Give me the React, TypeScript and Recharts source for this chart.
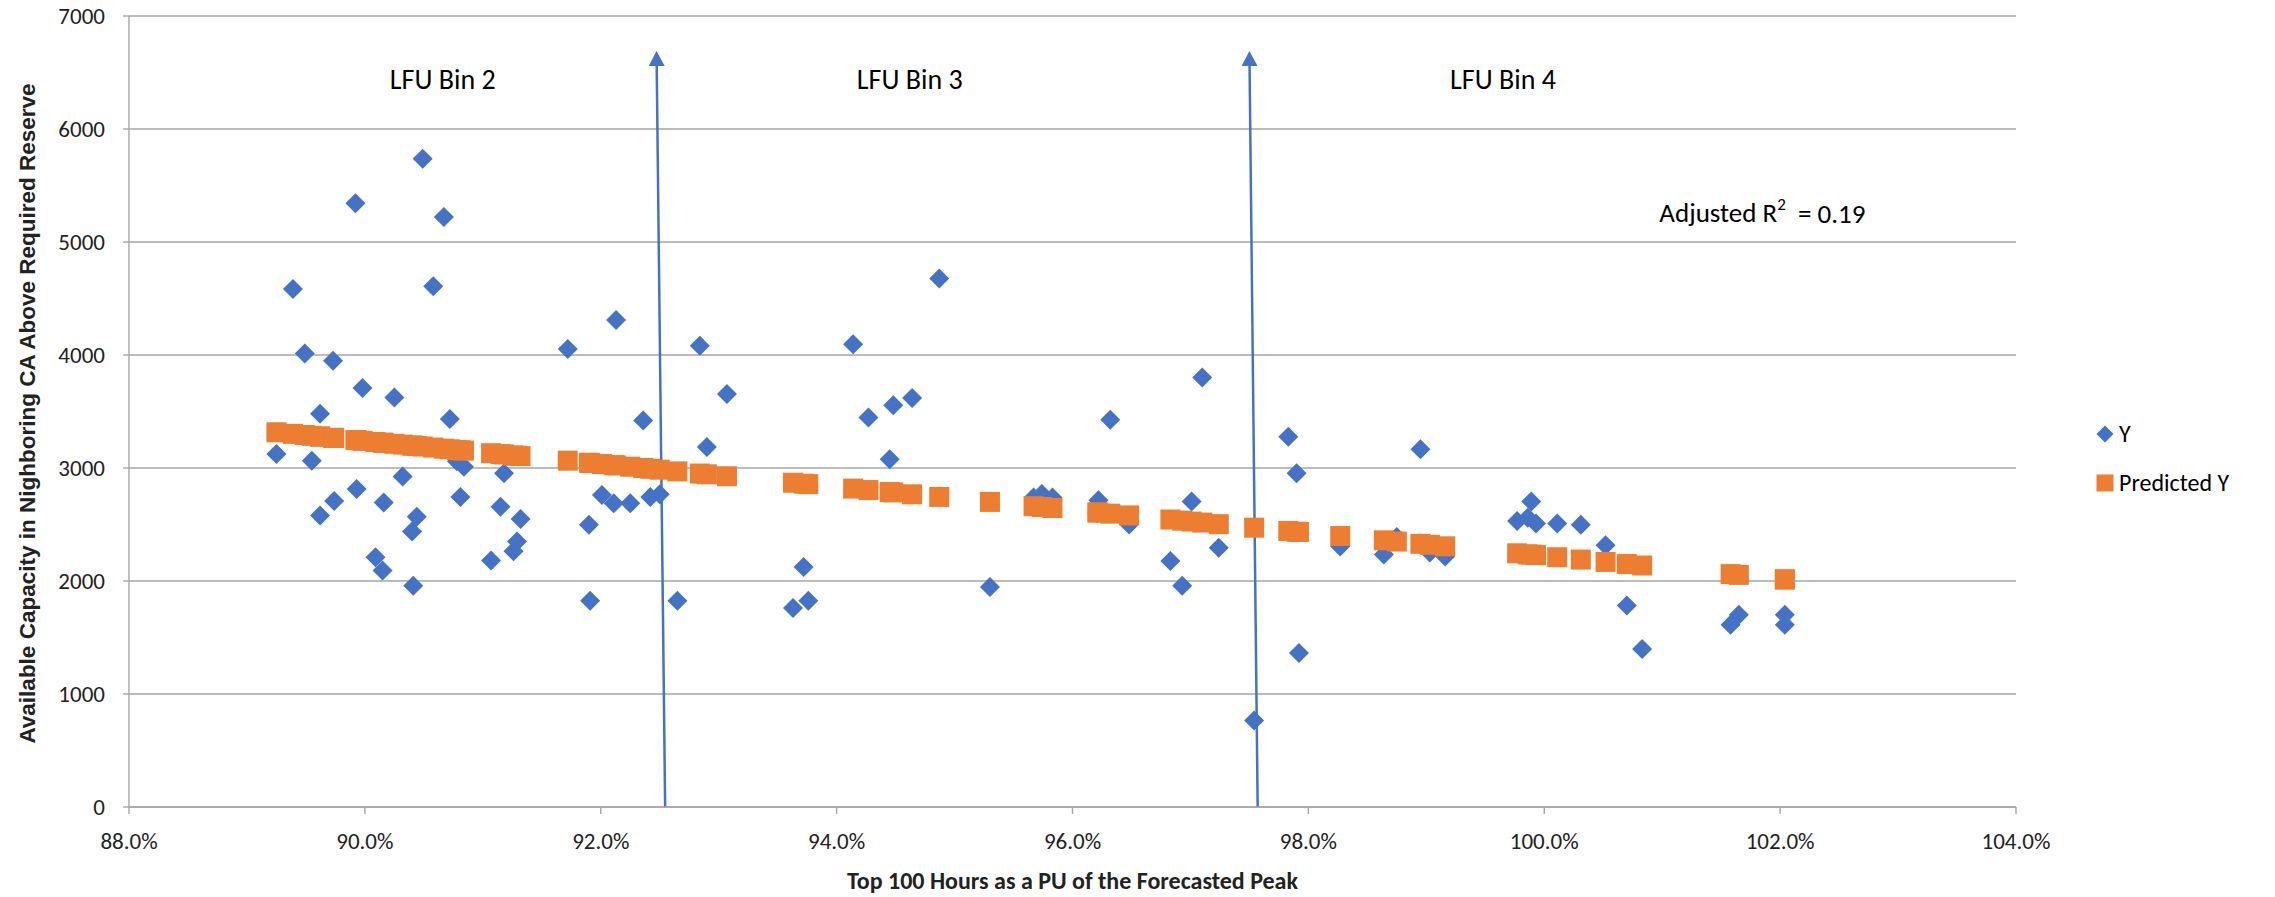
import {
  CartesianGrid,
  Legend,
  ReferenceDot,
  ReferenceLine,
  Scatter,
  ScatterChart,
  XAxis,
  YAxis,
} from "recharts";

const BLUE = "#4472C4";
const ORANGE = "#ED7D31";
const GRID = "#a6a6a6";
const FONT = "Carlito, Calibri, 'Liberation Sans Narrow', 'Arial Narrow', Lato, sans-serif";

// top 100 hours as % of forecasted peak
const X_VALUES = [
  89.25, 89.39, 89.49, 89.55, 89.62, 89.62, 89.73, 89.74, 89.92, 89.93,
  89.98, 90.09, 90.15, 90.16, 90.25, 90.32, 90.4, 90.41, 90.44, 90.49,
  90.58, 90.67, 90.72, 90.78, 90.81, 90.84, 91.07, 91.15, 91.18, 91.26,
  91.29, 91.32, 91.72, 91.9, 91.91, 92.01, 92.11, 92.13, 92.25, 92.36,
  92.42, 92.5, 92.65, 92.84, 92.9, 93.07, 93.63, 93.72, 93.76, 94.14,
  94.27, 94.45, 94.48, 94.64, 94.87, 95.3, 95.67, 95.74, 95.83, 96.21,
  96.22, 96.32, 96.48, 96.83, 96.93, 97.01, 97.1, 97.24, 97.54, 97.83,
  97.9, 97.92, 98.27, 98.64, 98.75, 98.95, 99.03, 99.16, 99.77, 99.86,
  99.89, 99.93, 100.11, 100.31, 100.52, 100.7, 100.83, 101.58, 101.65, 102.04,
  102.04,
];

// available capacity (Y)
const Y_VALUES = [
  3124, 4584, 4014, 3064, 3480, 2580, 3950, 2708, 5342, 2815,
  3708, 2210, 2092, 2694, 3623, 2925, 2437, 1957, 2569, 5737,
  4608, 5221, 3434, 3060, 2743, 3010, 2181, 2658, 2953, 2263,
  2349, 2548, 4053, 2498, 1825, 2761, 2687, 4310, 2687, 3420,
  2743, 2768, 1825, 4082, 3185, 3655, 1761, 2124, 1825, 4096,
  3448, 3078, 3555, 3619, 4676, 1946, 2740, 2770, 2740, 2600,
  2715, 3427, 2500, 2178, 1957, 2704, 3800, 2295, 765, 3277,
  2953, 1363, 2306, 2235, 2390, 3167, 2252, 2217, 2530, 2560,
  2704, 2509, 2509, 2498, 2316, 1783, 1398, 1612, 1701, 1701,
  1612,
];

// regression fit (Predicted Y)
const PREDICTED_Y = [
  3316, 3302, 3292, 3285, 3278, 3278, 3267, 3266, 3248, 3247,
  3240, 3230, 3224, 3223, 3214, 3207, 3199, 3198, 3195, 3190,
  3181, 3171, 3166, 3160, 3157, 3154, 3131, 3123, 3120, 3111,
  3108, 3105, 3065, 3046, 3045, 3035, 3025, 3023, 3011, 3000,
  2993, 2985, 2970, 2951, 2944, 2927, 2870, 2861, 2857, 2818,
  2805, 2787, 2784, 2767, 2744, 2700, 2662, 2655, 2646, 2607,
  2606, 2596, 2580, 2544, 2534, 2526, 2517, 2503, 2472, 2443,
  2436, 2434, 2398, 2360, 2349, 2329, 2320, 2307, 2245, 2236,
  2233, 2229, 2210, 2190, 2169, 2150, 2137, 2061, 2054, 2014,
  2014,
];

const X_TICKS = [88, 90, 92, 94, 96, 98, 100, 102, 104];
const Y_TICKS = [0, 1000, 2000, 3000, 4000, 5000, 6000, 7000];

const BIN_LABELS = ["LFU Bin 2", "LFU Bin 3", "LFU Bin 4"];
const BIN_LABEL_X = [90.66, 94.62, 99.65];
const BIN_LABEL_Y = 6440;

// bin boundary arrows: base on the x axis, tip near the top
const ARROW_BASE_X = [92.546, 97.57];
const ARROW_TIP_X = [92.473, 97.5];
const ARROW_TIP_Y = 6690;

const R2_X = 101.85;
const R2_Y = 5260;

const yData = X_VALUES.map((x, i) => ({ x, y: Y_VALUES[i] }));
const predData = X_VALUES.map((x, i) => ({ x, y: PREDICTED_Y[i] }));

function Diamond(props: any) {
  const { cx, cy } = props;
  const r = 10;
  return (
    <path
      d={`M${cx},${cy - r}L${cx + r},${cy}L${cx},${cy + r}L${cx - r},${cy}Z`}
      fill={BLUE}
    />
  );
}

function Square(props: any) {
  const { cx, cy } = props;
  return <rect x={cx - 10} y={cy - 10} width={20} height={20} fill={ORANGE} />;
}

function Arrow(props: any) {
  const { x1, y1, x2, y2 } = props;
  // y2 is the tip (top)
  const dx = x2 - x1;
  const dy = y2 - y1;
  const len = Math.sqrt(dx * dx + dy * dy);
  const ux = dx / len;
  const uy = dy / len;
  const headLen = 15;
  const headHalf = 8;
  const bx = x2 - ux * headLen;
  const by = y2 - uy * headLen;
  return (
    <g>
      <line x1={x1} y1={y1} x2={bx} y2={by} stroke={BLUE} strokeWidth={2.5} />
      <polygon
        points={`${x2},${y2} ${bx - uy * headHalf},${by + ux * headHalf} ${bx + uy * headHalf},${by - ux * headHalf}`}
        fill={BLUE}
      />
    </g>
  );
}

function textLabel(text: string, fontSize: number) {
  return (p: any) => {
    const vb = p.viewBox || {};
    const x = vb.x + (vb.width || 0) / 2;
    const y = vb.y + (vb.height || 0) / 2;
    return (
      <text
        x={x}
        y={y}
        textAnchor="middle"
        dominantBaseline="central"
        fontFamily={FONT}
        fontSize={fontSize}
        fill="#000"
      >
        {text}
      </text>
    );
  };
}

function r2Label(p: any) {
  const vb = p.viewBox || {};
  const x = vb.x + (vb.width || 0) / 2;
  const y = vb.y + (vb.height || 0) / 2;
  return (
    <text
      x={x}
      y={y}
      textAnchor="middle"
      dominantBaseline="central"
      fontFamily={FONT}
      fontSize={27}
      fill="#000"
    >
      Adjusted R
      <tspan fontSize={17} dy={-9}>
        2
      </tspan>
      <tspan dy={9}>{"\u00a0\u00a0= 0.19"}</tspan>
    </text>
  );
}

function renderLegend() {
  const rows = [
    { name: "Y", color: BLUE, kind: "diamond" },
    { name: "Predicted Y", color: ORANGE, kind: "square" },
  ];
  return (
    <div style={{ fontFamily: FONT, fontSize: 24, color: "#000" }}>
      {rows.map((r) => (
        <div
          key={r.name}
          style={{ display: "flex", alignItems: "center", height: 49 }}
        >
          <svg width={20} height={20} style={{ marginRight: 4 }}>
            {r.kind === "diamond" ? (
              <path d="M10,1.5L18.5,10L10,18.5L1.5,10Z" fill={r.color} />
            ) : (
              <rect x={1.5} y={1.5} width={17} height={17} fill={r.color} />
            )}
          </svg>
          <span>{r.name}</span>
        </div>
      ))}
    </div>
  );
}

export default function App() {
  return (
    <div
      style={{
        position: "absolute",
        left: 0,
        top: 0,
        width: 2275,
        height: 897,
        background: "#fff",
      }}
    >
      <ScatterChart
        width={2275}
        height={897}
        margin={{ top: 16, right: 259, bottom: 0, left: 0 }}
      >
        <CartesianGrid vertical={false} stroke={GRID} strokeWidth={1.4} />
        <XAxis
          type="number"
          dataKey="x"
          domain={[88, 104]}
          ticks={X_TICKS}
          tickFormatter={(v) => `${Number(v).toFixed(1)}%`}
          height={90}
          axisLine={{ stroke: GRID, strokeWidth: 1.4 }}
          tickLine={{ stroke: GRID, strokeWidth: 1.4 }}
          tickSize={7}
          tickMargin={19}
          tick={{ fontFamily: FONT, fontSize: 23, fill: "#222" }}
          label={(p: any) => {
            const vb = p.viewBox || {};
            return (
              <text
                x={vb.x + vb.width / 2}
                y={vb.y + 82}
                textAnchor="middle"
                fontFamily={FONT}
                fontWeight="bold"
                fontSize={24}
                fill="#222"
              >
                Top 100 Hours as a PU of the Forecasted Peak
              </text>
            );
          }}
        />
        <YAxis
          type="number"
          dataKey="y"
          domain={[0, 7000]}
          ticks={Y_TICKS}
          width={129}
          axisLine={{ stroke: GRID, strokeWidth: 1.4 }}
          tickLine={{ stroke: GRID, strokeWidth: 1.4 }}
          tickSize={6}
          tickMargin={18}
          tick={{ fontFamily: FONT, fontSize: 23, fill: "#222" }}
          label={(p: any) => {
            const vb = p.viewBox || {};
            const cy = vb.y + vb.height / 2 + 2;
            return (
              <text
                x={27}
                y={cy}
                transform={`rotate(-90, 27, ${cy})`}
                textAnchor="middle"
                dominantBaseline="central"
                fontFamily="'Liberation Sans', Arial, sans-serif"
                fontWeight="bold"
                fontSize={22.5}
                fill="#222"
              >
                Available Capacity in Nighboring CA Above Required Reserve
              </text>
            );
          }}
        />
        <Legend
          layout="vertical"
          align="center"
          verticalAlign="middle"
          wrapperStyle={{ left: 2095, top: 409, width: 180, height: 98 }}
          content={renderLegend}
        />
        <Scatter
          name="Y"
          data={yData}
          fill={BLUE}
          shape={Diamond}
          isAnimationActive={false}
        />
        <Scatter
          name="Predicted Y"
          data={predData}
          fill={ORANGE}
          shape={Square}
          isAnimationActive={false}
        />
        {ARROW_BASE_X.map((bx, i) => (
          <ReferenceLine
            key={`arrow-${i}`}
            segment={[
              { x: bx, y: 0 },
              { x: ARROW_TIP_X[i], y: ARROW_TIP_Y },
            ]}
            shape={Arrow}
          />
        ))}
        {BIN_LABELS.map((t, i) => (
          <ReferenceDot
            key={t}
            x={BIN_LABEL_X[i]}
            y={BIN_LABEL_Y}
            r={0}
            fill="none"
            stroke="none"
            label={textLabel(t, 28)}
          />
        ))}
        <ReferenceDot
          x={R2_X}
          y={R2_Y}
          r={0}
          fill="none"
          stroke="none"
          label={r2Label}
        />
      </ScatterChart>
    </div>
  );
}
